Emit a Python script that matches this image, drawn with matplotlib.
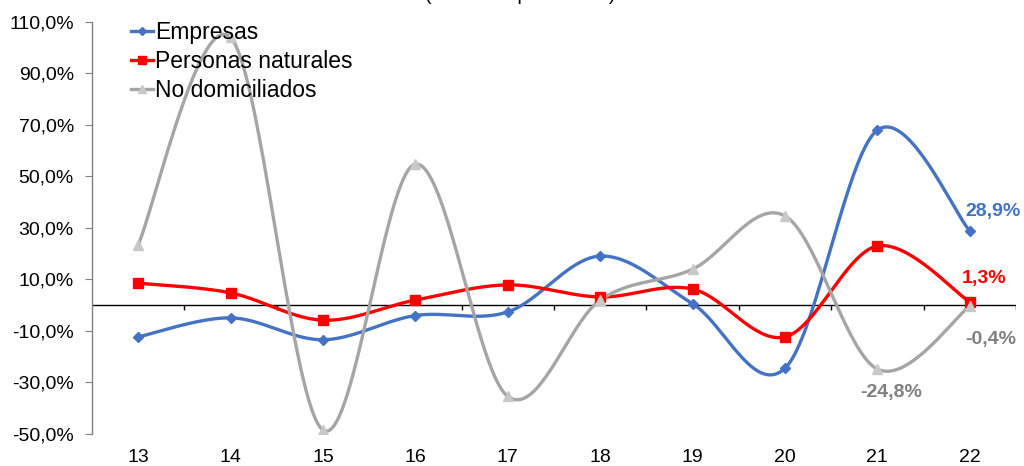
import numpy as np
import matplotlib
matplotlib.use("Agg")
import matplotlib.pyplot as plt
from matplotlib.lines import Line2D
from matplotlib.ticker import FuncFormatter


# -------------------------------------------------
# DATA
# -------------------------------------------------
years = [13, 14, 15, 16, 17, 18, 19, 20, 21, 22]
empresas = [-12.3, -4.9, -13.4, -4.0, -2.6, 19.1, 0.6, -24.5, 68.0, 28.9]
personas = [8.6, 4.8, -5.8, 2.0, 7.9, 3.2, 6.3, -12.3, 23.0, 1.3]
no_domiciliados = [23.4, 104.0, -48.5, 54.8, -35.4, 2.0, 14.0, 34.7, -24.8, -0.4]

y_ticks = [-50, -30, -10, 10, 30, 50, 70, 90, 110]
title = "(Variación porcentual)"

plt.rcParams["font.family"] = ["Liberation Sans", "DejaVu Sans"]


# -------------------------------------------------
# SMOOTH CURVE (bezier through the points)
# -------------------------------------------------
def smooth(x, y, n=40):
    x = np.asarray(x, float)
    y = np.asarray(y, float)
    px = np.concatenate([[x[0]], x, [x[-1]]])
    py = np.concatenate([[y[0]], y, [y[-1]]])
    xs, ys = [], []
    t = np.linspace(0, 1, n)
    for i in range(1, len(px) - 2):
        p0 = np.array([px[i], py[i]])
        p3 = np.array([px[i + 1], py[i + 1]])
        c1 = p0 + (p3 - np.array([px[i - 1], py[i - 1]])) / 6
        c2 = p3 - (np.array([px[i + 2], py[i + 2]]) - p0) / 6
        b = ((1 - t) ** 3)[:, None] * p0 + (3 * (1 - t) ** 2 * t)[:, None] * c1 \
            + (3 * (1 - t) * t ** 2)[:, None] * c2 + (t ** 3)[:, None] * p3
        xs.append(b[:, 0])
        ys.append(b[:, 1])
    return np.concatenate(xs), np.concatenate(ys)


def pct(v):
    return f"{v:.1f}%".replace(".", ",")


fig = plt.figure(figsize=(10.24, 4.66), dpi=100)
ax = fig.add_axes([0.0898, 0.0687, 0.9023, 0.8841])

series = [
    ("Empresas", empresas, "#4472C4", "#4472C4", "D", 5),
    ("Personas naturales", personas, "#FF0000", "#FF0000", "s", 6.5),
    ("No domiciliados", no_domiciliados, "#A5A5A5", "#C8C8C8", "^", 7),
]

handles = []
for name, vals, lc, mc, mk, ms in series:
    sx, sy = smooth(years, vals)
    ax.plot(sx, sy, color=lc, lw=2.4, solid_capstyle="round", zorder=3)
    ax.plot(years, vals, ls="none", marker=mk, ms=ms, color=mc, zorder=4)
    handles.append(Line2D([0], [0], color=lc, lw=2.4, marker=mk, ms=ms - 1,
                          markerfacecolor=mc, markeredgecolor=mc, label=name))

# -------------------------------------------------
# AXES
# -------------------------------------------------
ax.set_xlim(12.5, 22.5)
ax.set_ylim(-50, 110)
ax.set_yticks(y_ticks)
ax.yaxis.set_major_formatter(FuncFormatter(lambda v, p: pct(v)))
ax.tick_params(axis="y", length=5, color="#808080", labelsize=14, pad=8)

ax.set_xticks(years)
ax.set_xticklabels([str(y) for y in years])
ax.tick_params(axis="x", length=0, labelsize=14, pad=11)

for s in ["top", "right", "bottom"]:
    ax.spines[s].set_visible(False)
ax.spines["left"].set_color("#808080")
ax.spines["left"].set_linewidth(1.0)

# zero line with category-boundary ticks
ax.axhline(0, color="black", lw=1.0, zorder=2)
bounds = np.arange(years[0] - 0.5, years[-1] + 1, 1.0)
ax.vlines(bounds[1:], -2.0, 0, color="black", lw=1.0, zorder=2)

# -------------------------------------------------
# DATA LABELS (last values)
# -------------------------------------------------
lab_kw = dict(textcoords="offset points", ha="center", va="center",
              fontsize=14, fontweight="bold")
ax.annotate(pct(empresas[-1]), (years[-1], empresas[-1]),
            xytext=(17, 14), color="#4472C4", **lab_kw)
ax.annotate(pct(personas[-1]), (years[-1], personas[-1]),
            xytext=(10, 17), color="#FF0000", **lab_kw)
ax.annotate(pct(no_domiciliados[-1]), (years[-1], no_domiciliados[-1]),
            xytext=(15, -24), color="#808080", **lab_kw)
ax.annotate(pct(no_domiciliados[-2]), (years[-2], no_domiciliados[-2]),
            xytext=(10, -17), color="#808080", **lab_kw)

ax.legend(handles=handles, loc="upper left", bbox_to_anchor=(0.128, 1 - 21 / 466),
          bbox_transform=fig.transFigure, frameon=False, fontsize=16.5,
          handlelength=0.95, handletextpad=0.1, labelspacing=0.26,
          borderpad=0.0, borderaxespad=0.0)

fig.text(0.508, 1 - 0.5 / 466, title, ha="center", va="baseline", fontsize=14)

fig.savefig("out.png", dpi=100)
